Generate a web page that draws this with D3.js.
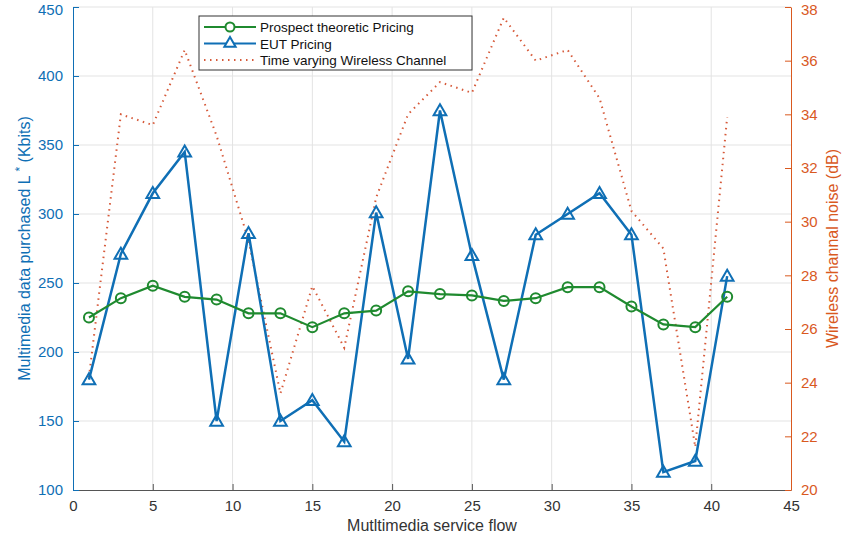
<!DOCTYPE html>
<html>
<head>
<meta charset="utf-8">
<script src="https://cdn.jsdelivr.net/npm/d3@7"></script>
<style>
  body { margin: 0; background: #fff; }
  svg { font-family: 'Liberation Sans', Arial, sans-serif; }
</style>
</head>
<body>
<div id="chart"></div>
<script>
// service flow index (x)
const flows = [1, 3, 5, 7, 9, 11, 13, 15, 17, 19, 21, 23, 25, 27, 29, 31, 33, 35, 37, 39, 41];
// Prospect theoretic pricing, Kbits
const prospect = [225, 239, 248, 240, 238, 228, 228, 218, 228, 230, 244, 242, 241, 237, 239, 247, 247, 233, 220, 218, 240];
// EUT pricing, Kbits
const eut = [180, 271, 315, 345, 150, 286, 150, 165, 135, 301, 195, 375, 270, 180, 285, 300, 315, 285, 113, 121, 255];
// wireless channel noise, dB (right axis)
const noise = [24.2, 34.0, 33.6, 36.4, 33.2, 29.3, 23.6, 27.6, 25.3, 30.9, 34.0, 35.2, 34.8, 37.6, 36.0, 36.4, 34.6, 30.4, 29.0, 21.6, 33.9];

const xTicks = [0, 5, 10, 15, 20, 25, 30, 35, 40, 45];
const yLeftTicks = [100, 150, 200, 250, 300, 350, 400, 450];
const yRightTicks = [20, 22, 24, 26, 28, 30, 32, 34, 36, 38];

const W = 842, H = 539;
const m = { left: 73, right: 51, top: 7, bottom: 49 };
const blue = '#0f6fb5', orange = '#d9591f', green = '#1f8a2f', dotted = '#d65a3a';

const svg = d3.select('#chart').append('svg')
  .attr('width', W).attr('height', H);

const x = d3.scaleLinear().domain([0, 45]).range([m.left, W - m.right]);
const yL = d3.scaleLinear().domain([100, 450]).range([H - m.bottom, m.top]);
const yR = d3.scaleLinear().domain([20, 38]).range([H - m.bottom, m.top]);

// grid
const grid = svg.append('g').attr('stroke', '#e3e3e3').attr('stroke-width', 1);
grid.selectAll('.gx').data(xTicks.slice(1, -1)).enter().append('line')
  .attr('x1', (d) => x(d)).attr('x2', (d) => x(d))
  .attr('y1', m.top).attr('y2', H - m.bottom);
grid.selectAll('.gy').data(yLeftTicks.slice(1)).enter().append('line')
  .attr('x1', m.left).attr('x2', W - m.right)
  .attr('y1', (d) => yL(d)).attr('y2', (d) => yL(d));

// axes (MATLAB style inward ticks)
const xAxis = svg.append('g')
  .attr('transform', `translate(0,${H - m.bottom})`)
  .call(d3.axisBottom(x).tickValues(xTicks).tickSizeInner(-6).tickSizeOuter(0).tickPadding(10));
xAxis.selectAll('path, line').attr('stroke', '#555');
xAxis.selectAll('text').attr('fill', '#333').style('font-size', '15px');

const yAxisL = svg.append('g')
  .attr('transform', `translate(${m.left},0)`)
  .call(d3.axisLeft(yL).tickValues(yLeftTicks).tickSizeInner(-6).tickSizeOuter(0).tickPadding(10));
yAxisL.selectAll('path, line').attr('stroke', blue);
yAxisL.selectAll('text').attr('fill', blue).style('font-size', '15px');

const yAxisR = svg.append('g')
  .attr('transform', `translate(${W - m.right},0)`)
  .call(d3.axisRight(yR).tickValues(yRightTicks).tickSizeInner(-6).tickSizeOuter(0).tickPadding(10));
yAxisR.selectAll('path, line').attr('stroke', orange);
yAxisR.selectAll('text').attr('fill', orange).style('font-size', '15px');

// keep the topmost tick labels inside the page
yAxisL.selectAll('.tick').filter((d) => d === 450).select('text').attr('dy', '0.5em');
yAxisR.selectAll('.tick').filter((d) => d === 38).select('text').attr('dy', '0.5em');

// axis labels
svg.append('text')
  .attr('x', (m.left + W - m.right) / 2).attr('y', H - 8)
  .attr('text-anchor', 'middle').attr('fill', '#333').style('font-size', '16px')
  .text('Mutltimedia service flow');

const yl = svg.append('text')
  .attr('transform', `translate(30,${(m.top + H - m.bottom) / 2}) rotate(-90)`)
  .attr('text-anchor', 'middle').attr('fill', blue).style('font-size', '16px');
yl.append('tspan').text('Multimedia data purchased L ');
yl.append('tspan').attr('dy', -6).style('font-size', '12px').text('*');
yl.append('tspan').attr('dy', 6).text(' (Kbits)');

svg.append('text')
  .attr('transform', `translate(838,${(m.top + H - m.bottom) / 2}) rotate(-90)`)
  .attr('text-anchor', 'middle').attr('fill', orange).style('font-size', '16px')
  .text('Wireless channal noise (dB)');

// series
const lineL = (vals) => d3.line().x((d, i) => x(flows[i])).y((d) => yL(d))(vals);
const lineR = d3.line().x((d, i) => x(flows[i])).y((d) => yR(d));

svg.append('path').attr('d', lineR(noise))
  .attr('fill', 'none').attr('stroke', dotted).attr('stroke-width', 2)
  .attr('stroke-dasharray', '1.5,4.5').attr('stroke-linecap', 'butt');

svg.append('path').attr('d', lineL(eut))
  .attr('fill', 'none').attr('stroke', blue).attr('stroke-width', 2.5);
const tri = d3.symbol().type(d3.symbolTriangle).size(70);
svg.selectAll('.tri').data(eut).enter().append('path')
  .attr('d', tri)
  .attr('transform', (d, i) => `translate(${x(flows[i])},${yL(d) + 1})`)
  .attr('fill', 'none').attr('stroke', blue).attr('stroke-width', 2);

svg.append('path').attr('d', lineL(prospect))
  .attr('fill', 'none').attr('stroke', green).attr('stroke-width', 2.2);
svg.selectAll('.circ').data(prospect).enter().append('circle')
  .attr('cx', (d, i) => x(flows[i])).attr('cy', (d) => yL(d)).attr('r', 5)
  .attr('fill', 'none').attr('stroke', green).attr('stroke-width', 2);

// legend
const lg = svg.append('g').attr('transform', 'translate(199,16)');
lg.append('rect').attr('width', 273).attr('height', 54)
  .attr('fill', '#fff').attr('stroke', '#333').attr('stroke-width', 1);
const items = [
  { label: 'Prospect theoretic Pricing', color: green, mark: 'circle' },
  { label: 'EUT Pricing', color: blue, mark: 'tri' },
  { label: 'Time varying Wireless Channel', color: dotted, mark: 'dot' },
];
items.forEach((it, i) => {
  const cy = 11 + i * 16.5;
  const l = lg.append('line').attr('x1', 5).attr('x2', 57).attr('y1', cy).attr('y2', cy)
    .attr('stroke', it.color).attr('stroke-width', it.mark === 'dot' ? 2 : 2.2);
  if (it.mark === 'dot') l.attr('stroke-dasharray', '1.5,4.5');
  if (it.mark === 'circle') {
    lg.append('circle').attr('cx', 31).attr('cy', cy).attr('r', 4.5)
      .attr('fill', '#fff').attr('stroke', it.color).attr('stroke-width', 2);
  }
  if (it.mark === 'tri') {
    lg.append('path').attr('d', d3.symbol().type(d3.symbolTriangle).size(55))
      .attr('transform', `translate(31,${cy})`)
      .attr('fill', '#fff').attr('stroke', it.color).attr('stroke-width', 2);
  }
  lg.append('text').attr('x', 61).attr('y', cy + 5)
    .attr('fill', '#111').style('font-size', '13.5px').text(it.label);
});
</script>
</body>
</html>
